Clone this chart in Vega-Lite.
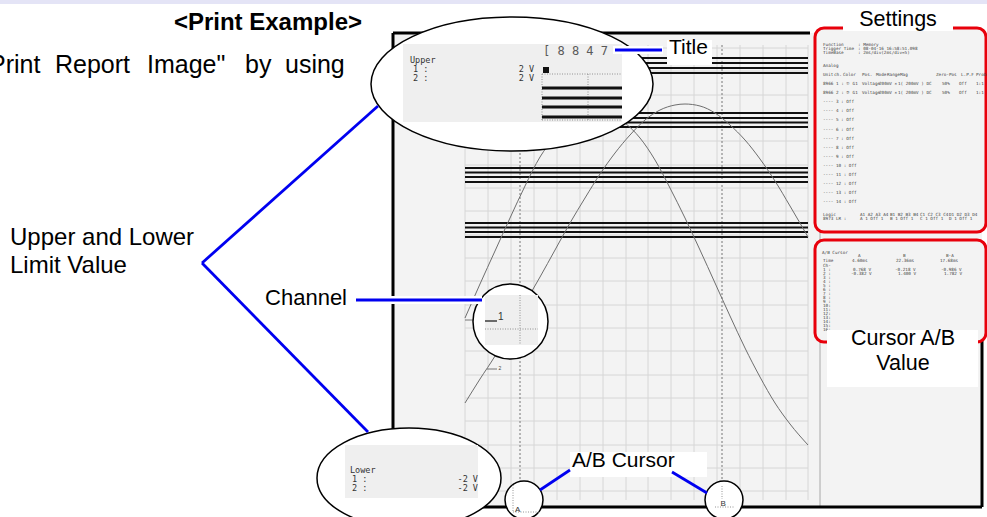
{
 "$schema": "https://vega.github.io/schema/vega-lite/v6.json",
 "width": 987, "height": 517, "padding": 0, "autosize": {"type": "none"},
 "background": "white",
 "config": {"view": {"stroke": null}, "text": {"font": "Liberation Sans"}},
 "encoding": {
  "x": {"field": "x", "type": "quantitative", "scale": {"domain": [0, 987], "nice": false, "zero": false}, "axis": null},
  "y": {"field": "y", "type": "quantitative", "scale": {"domain": [0, 517], "nice": false, "zero": false, "reverse": true}, "axis": null}
 },
 "layer": [
  {"data": {"values": [{"x": 0, "x2": 987, "y": 0, "y2": 4}]},
   "mark": {"type": "rect", "color": "#e4e4f6"},
   "encoding": {"x2": {"field": "x2"}, "y2": {"field": "y2"}}},
  {"data": {"values": [{"x": 393, "x2": 982, "y": 33, "y2": 507}]},
   "mark": {"type": "rect", "color": "#f3f3f3"},
   "encoding": {"x2": {"field": "x2"}, "y2": {"field": "y2"}}},
  {"data": {"values": [
    {"x": 465, "x2": 465, "y": 45, "y2": 500}, {"x": 488, "x2": 488, "y": 45, "y2": 500}, {"x": 511, "x2": 511, "y": 45, "y2": 500},
    {"x": 534, "x2": 534, "y": 45, "y2": 500}, {"x": 557, "x2": 557, "y": 45, "y2": 500}, {"x": 580, "x2": 580, "y": 45, "y2": 500},
    {"x": 603, "x2": 603, "y": 45, "y2": 500}, {"x": 626, "x2": 626, "y": 45, "y2": 500}, {"x": 648, "x2": 648, "y": 45, "y2": 500},
    {"x": 671, "x2": 671, "y": 45, "y2": 500}, {"x": 694, "x2": 694, "y": 45, "y2": 500}, {"x": 717, "x2": 717, "y": 45, "y2": 500},
    {"x": 740, "x2": 740, "y": 45, "y2": 500}, {"x": 763, "x2": 763, "y": 45, "y2": 500}, {"x": 786, "x2": 786, "y": 45, "y2": 500},
    {"x": 808, "x2": 808, "y": 45, "y2": 500},
    {"x": 465, "x2": 808, "y": 48, "y2": 48}, {"x": 465, "x2": 808, "y": 71, "y2": 71}, {"x": 465, "x2": 808, "y": 95, "y2": 95},
    {"x": 465, "x2": 808, "y": 118, "y2": 118}, {"x": 465, "x2": 808, "y": 141, "y2": 141}, {"x": 465, "x2": 808, "y": 165, "y2": 165},
    {"x": 465, "x2": 808, "y": 188, "y2": 188}, {"x": 465, "x2": 808, "y": 211, "y2": 211}, {"x": 465, "x2": 808, "y": 235, "y2": 235},
    {"x": 465, "x2": 808, "y": 258, "y2": 258}, {"x": 465, "x2": 808, "y": 281, "y2": 281}, {"x": 465, "x2": 808, "y": 305, "y2": 305},
    {"x": 465, "x2": 808, "y": 328, "y2": 328}, {"x": 465, "x2": 808, "y": 351, "y2": 351}, {"x": 465, "x2": 808, "y": 375, "y2": 375},
    {"x": 465, "x2": 808, "y": 398, "y2": 398}, {"x": 465, "x2": 808, "y": 421, "y2": 421}, {"x": 465, "x2": 808, "y": 445, "y2": 445},
    {"x": 465, "x2": 808, "y": 468, "y2": 468}, {"x": 465, "x2": 808, "y": 491, "y2": 491}
   ]},
   "mark": {"type": "rule", "color": "#d6d6d6", "strokeWidth": 1},
   "encoding": {"x2": {"field": "x2"}, "y2": {"field": "y2"}}},
  {"data": {"values": [{"x": 820, "x2": 820, "y": 33, "y2": 507}]},
   "mark": {"type": "rule", "color": "#a8a8a8", "strokeWidth": 1},
   "encoding": {"x2": {"field": "x2"}, "y2": {"field": "y2"}}},
  {"data": {"values": [{"x": 520, "x2": 520, "y": 45, "y2": 503}, {"x": 722, "x2": 722, "y": 45, "y2": 503}]},
   "mark": {"type": "rule", "color": "#777777", "strokeWidth": 1, "strokeDash": [2, 2]},
   "encoding": {"x2": {"field": "x2"}, "y2": {"field": "y2"}}},
  {"data": {"values": [
    {"x": 465, "x2": 808, "y": 58, "y2": 58}, {"x": 465, "x2": 808, "y": 63, "y2": 63}, {"x": 465, "x2": 808, "y": 68, "y2": 68}, {"x": 465, "x2": 808, "y": 73, "y2": 73},
    {"x": 465, "x2": 808, "y": 113, "y2": 113}, {"x": 465, "x2": 808, "y": 118, "y2": 118}, {"x": 465, "x2": 808, "y": 122.5, "y2": 122.5}, {"x": 465, "x2": 808, "y": 127, "y2": 127},
    {"x": 465, "x2": 808, "y": 168, "y2": 168}, {"x": 465, "x2": 808, "y": 172.5, "y2": 172.5}, {"x": 465, "x2": 808, "y": 177, "y2": 177}, {"x": 465, "x2": 808, "y": 182, "y2": 182},
    {"x": 465, "x2": 808, "y": 223, "y2": 223}, {"x": 465, "x2": 808, "y": 227.5, "y2": 227.5}, {"x": 465, "x2": 808, "y": 232, "y2": 232}, {"x": 465, "x2": 808, "y": 237, "y2": 237}
   ]},
   "mark": {"type": "rule", "color": "#111111", "strokeWidth": 1.8},
   "encoding": {"x2": {"field": "x2"}, "y2": {"field": "y2"}}},
  {"data": {"values": [
    {"ch": "1", "x": 465, "y": 318}, {"ch": "1", "x": 480, "y": 284}, {"ch": "1", "x": 495, "y": 251}, {"ch": "1", "x": 510, "y": 218},
    {"ch": "1", "x": 525, "y": 186}, {"ch": "1", "x": 540, "y": 157}, {"ch": "1", "x": 555, "y": 137}, {"ch": "1", "x": 570, "y": 123},
    {"ch": "1", "x": 585, "y": 114}, {"ch": "1", "x": 597, "y": 111}, {"ch": "1", "x": 610, "y": 114}, {"ch": "1", "x": 625, "y": 123},
    {"ch": "1", "x": 640, "y": 138}, {"ch": "1", "x": 655, "y": 160}, {"ch": "1", "x": 670, "y": 188}, {"ch": "1", "x": 685, "y": 218},
    {"ch": "1", "x": 700, "y": 250}, {"ch": "1", "x": 715, "y": 283}, {"ch": "1", "x": 730, "y": 316}, {"ch": "1", "x": 745, "y": 348},
    {"ch": "1", "x": 760, "y": 377}, {"ch": "1", "x": 775, "y": 403}, {"ch": "1", "x": 790, "y": 424}, {"ch": "1", "x": 808, "y": 445},
    {"ch": "2", "x": 465, "y": 403}, {"ch": "2", "x": 480, "y": 379}, {"ch": "2", "x": 495, "y": 356}, {"ch": "2", "x": 510, "y": 329},
    {"ch": "2", "x": 525, "y": 303}, {"ch": "2", "x": 540, "y": 277}, {"ch": "2", "x": 555, "y": 250}, {"ch": "2", "x": 570, "y": 223},
    {"ch": "2", "x": 585, "y": 198}, {"ch": "2", "x": 600, "y": 174}, {"ch": "2", "x": 615, "y": 153}, {"ch": "2", "x": 630, "y": 135},
    {"ch": "2", "x": 645, "y": 120}, {"ch": "2", "x": 660, "y": 110}, {"ch": "2", "x": 675, "y": 105}, {"ch": "2", "x": 685, "y": 104},
    {"ch": "2", "x": 700, "y": 106}, {"ch": "2", "x": 715, "y": 113}, {"ch": "2", "x": 730, "y": 125}, {"ch": "2", "x": 745, "y": 140},
    {"ch": "2", "x": 760, "y": 159}, {"ch": "2", "x": 775, "y": 181}, {"ch": "2", "x": 790, "y": 206}, {"ch": "2", "x": 808, "y": 237}
   ]},
   "mark": {"type": "line", "interpolate": "monotone", "color": "#6e6e6e", "strokeWidth": 1},
   "encoding": {"detail": {"field": "ch", "type": "nominal"}}},
  {"data": {"values": [{"x": 465, "x2": 474, "y": 320, "y2": 320}, {"x": 487, "x2": 497, "y": 369, "y2": 369}]},
   "mark": {"type": "rule", "color": "#555555", "strokeWidth": 0.8},
   "encoding": {"x2": {"field": "x2"}, "y2": {"field": "y2"}}},
  {"data": {"values": [{"x": 498.5, "y": 370, "t": "2"}]},
   "mark": {"type": "text", "align": "left", "baseline": "alphabetic", "fontSize": 5, "color": "#444444"},
   "encoding": {"text": {"field": "t"}}},
  {"data": {"values": [
    {"x": 393, "x2": 810, "y": 33, "y2": 33}, {"x": 393, "x2": 393, "y": 33, "y2": 507},
    {"x": 393, "x2": 982, "y": 507, "y2": 507}, {"x": 982, "x2": 982, "y": 340, "y2": 507}
   ]},
   "mark": {"type": "rule", "color": "black", "strokeWidth": 3},
   "encoding": {"x2": {"field": "x2"}, "y2": {"field": "y2"}}},
  {"data": {"values": [{"x": 815, "x2": 986, "y": 28, "y2": 232}, {"x": 815, "x2": 986, "y": 240, "y2": 342}]},
   "mark": {"type": "rect", "fill": "#f3f3f3", "stroke": "#e8000b", "strokeWidth": 3, "cornerRadius": 9},
   "encoding": {"x2": {"field": "x2"}, "y2": {"field": "y2"}}},
  {"data": {"values": [
    {"x": 823, "y": 45, "t": "Function"}, {"x": 858, "y": 45, "t": ": Memory"},
    {"x": 823, "y": 49, "t": "Trigger Time"}, {"x": 858, "y": 49, "t": ": 08-04-16 16:58:51.098"},
    {"x": 823, "y": 53, "t": "TimeBase"}, {"x": 858, "y": 53, "t": ": 2ms/div(2ms/div=5)"},
    {"x": 823, "y": 66, "t": "Analog"},
    {"x": 823, "y": 75, "t": "Unit"}, {"x": 834, "y": 75, "t": "ch."}, {"x": 843, "y": 75, "t": "Color"}, {"x": 862, "y": 75, "t": "Pos."},
    {"x": 876, "y": 75, "t": "Mode"}, {"x": 887, "y": 75, "t": "Range"}, {"x": 900, "y": 75, "t": "Mag"}, {"x": 936, "y": 75, "t": "Zero-Pos"},
    {"x": 961, "y": 75, "t": "L.P.F"}, {"x": 976, "y": 75, "t": "Prob"},
    {"x": 823, "y": 84, "t": "8966"}, {"x": 836, "y": 84, "t": "1 :"}, {"x": 846, "y": 84, "t": "① G1"}, {"x": 862, "y": 84, "t": "Voltage"},
    {"x": 879, "y": 84, "t": "200mV ×"}, {"x": 898, "y": 84, "t": "1( 200mV ) DC"}, {"x": 942, "y": 84, "t": "50%"}, {"x": 959, "y": 84, "t": "Off"}, {"x": 976, "y": 84, "t": "1:1"},
    {"x": 823, "y": 93, "t": "8966"}, {"x": 836, "y": 93, "t": "2 :"}, {"x": 846, "y": 93, "t": "② G1"}, {"x": 862, "y": 93, "t": "Voltage"},
    {"x": 879, "y": 93, "t": "200mV ×"}, {"x": 898, "y": 93, "t": "1( 200mV ) DC"}, {"x": 942, "y": 93, "t": "50%"}, {"x": 959, "y": 93, "t": "Off"}, {"x": 976, "y": 93, "t": "1:1"},
    {"x": 823, "y": 102, "t": "----  3 : Off"}, {"x": 823, "y": 111, "t": "----  4 : Off"}, {"x": 823, "y": 120, "t": "----  5 : Off"},
    {"x": 823, "y": 130, "t": "----  6 : Off"}, {"x": 823, "y": 139, "t": "----  7 : Off"}, {"x": 823, "y": 148, "t": "----  8 : Off"},
    {"x": 823, "y": 157, "t": "----  9 : Off"}, {"x": 823, "y": 166, "t": "---- 10 : Off"}, {"x": 823, "y": 175, "t": "---- 11 : Off"},
    {"x": 823, "y": 184, "t": "---- 12 : Off"}, {"x": 823, "y": 193, "t": "---- 13 : Off"}, {"x": 823, "y": 202, "t": "---- 14 : Off"},
    {"x": 823, "y": 215, "t": "Logic"}, {"x": 860, "y": 215, "t": "A1 A2 A3 A4"}, {"x": 890, "y": 215, "t": "B1 B2 B3 B4"},
    {"x": 920, "y": 215, "t": "C1 C2 C3 C4"}, {"x": 949, "y": 215, "t": "D1 D2 D3 D4"},
    {"x": 823, "y": 219, "t": "8973 LR :"}, {"x": 860, "y": 219, "t": "A  1 Off 1"}, {"x": 890, "y": 219, "t": "B  1 Off 1"},
    {"x": 920, "y": 219, "t": "C  1 Off 1"}, {"x": 949, "y": 219, "t": "D  1 Off 1"},
    {"x": 822, "y": 253, "t": "A/B Cursor"}, {"x": 858, "y": 256, "t": "A"}, {"x": 903, "y": 256, "t": "B"}, {"x": 946, "y": 256, "t": "B-A"},
    {"x": 823, "y": 261, "t": "Time"}, {"x": 852, "y": 261, "t": "4.60ms"}, {"x": 896, "y": 261, "t": "22.36ms"}, {"x": 940, "y": 261, "t": "17.68ms"},
    {"x": 823, "y": 265.5, "t": "Ch-"},
    {"x": 823, "y": 270, "t": "1 :"}, {"x": 853, "y": 270, "t": "0.768 V"}, {"x": 895, "y": 270, "t": "-0.218 V"}, {"x": 941, "y": 270, "t": "-0.986 V"},
    {"x": 823, "y": 274, "t": "2 :"}, {"x": 851, "y": 274, "t": "-0.382 V"}, {"x": 898, "y": 274, "t": "1.400 V"}, {"x": 944, "y": 274, "t": "1.782 V"},
    {"x": 823, "y": 278, "t": "3 :"}, {"x": 823, "y": 282, "t": "4 :"}, {"x": 823, "y": 286, "t": "5 :"}, {"x": 823, "y": 290, "t": "6 :"},
    {"x": 823, "y": 294, "t": "7 :"}, {"x": 823, "y": 298, "t": "8 :"}, {"x": 823, "y": 302, "t": "9 :"}, {"x": 823, "y": 306, "t": "10:"},
    {"x": 823, "y": 310, "t": "11:"}, {"x": 823, "y": 314, "t": "12:"}, {"x": 823, "y": 318, "t": "13:"}, {"x": 823, "y": 322, "t": "14:"},
    {"x": 823, "y": 326, "t": "15:"}, {"x": 823, "y": 330, "t": "16:"}
   ]},
   "mark": {"type": "text", "align": "left", "baseline": "middle", "fontSize": 4.3, "font": "DejaVu Sans Mono", "color": "#444444"},
   "encoding": {"text": {"field": "t"}}},
  {"data": {"values": [
    {"x": 843, "x2": 953, "y": 5, "y2": 31}, {"x": 827, "x2": 978, "y": 330, "y2": 387},
    {"x": 667, "x2": 712, "y": 40, "y2": 65}, {"x": 570, "x2": 707, "y": 452, "y2": 477}
   ]},
   "mark": {"type": "rect", "color": "white"},
   "encoding": {"x2": {"field": "x2"}, "y2": {"field": "y2"}}},
  {"data": {"values": [{"x": 512, "y": 84}]},
   "mark": {"type": "point", "shape": "M-1,0C-1,-0.2625,-0.5523,-0.4752,0,-0.4752C0.5523,-0.4752,1,-0.2625,1,0C1,0.2625,0.5523,0.4752,0,0.4752C-0.5523,0.4752,-1,0.2625,-1,0Z", "size": 79524, "filled": true, "fill": "white", "stroke": "black", "strokeWidth": 1.5, "opacity": 1}},
  {"data": {"values": [{"x": 409, "y": 478}]},
   "mark": {"type": "point", "shape": "M-1,0C-1,-0.3002,-0.5523,-0.5435,0,-0.5435C0.5523,-0.5435,1,-0.3002,1,0C1,0.3002,0.5523,0.5435,0,0.5435C-0.5523,0.5435,-1,0.3002,-1,0Z", "size": 33856, "filled": true, "fill": "white", "stroke": "black", "strokeWidth": 1.5, "opacity": 1}},
  {"data": {"values": [{"x": 510.5, "y": 321.5}]},
   "mark": {"type": "point", "shape": "circle", "size": 5625, "filled": true, "fill": "white", "stroke": "black", "strokeWidth": 1.5, "opacity": 1}},
  {"data": {"values": [{"x": 524, "y": 500}, {"x": 724, "y": 500}]},
   "mark": {"type": "point", "shape": "circle", "size": 1444, "filled": true, "fill": "white", "stroke": "black", "strokeWidth": 1.5, "opacity": 1}},
  {"data": {"values": [
    {"x": 403, "x2": 622, "y": 44, "y2": 122}, {"x": 345, "x2": 478, "y": 445, "y2": 498}, {"x": 485, "x2": 538, "y": 295, "y2": 345}
   ]},
   "mark": {"type": "rect", "color": "#efefef"},
   "encoding": {"x2": {"field": "x2"}, "y2": {"field": "y2"}}},
  {"data": {"values": [
    {"x": 542, "x2": 622, "y": 74, "y2": 74}, {"x": 542, "x2": 622, "y": 120, "y2": 120},
    {"x": 542, "x2": 542, "y": 74, "y2": 120}, {"x": 588, "x2": 588, "y": 74, "y2": 120},
    {"x": 520, "x2": 520, "y": 295, "y2": 345}, {"x": 485, "x2": 538, "y": 329, "y2": 329},
    {"x": 513, "x2": 513, "y": 485, "y2": 512}, {"x": 513, "x2": 540, "y": 512, "y2": 512},
    {"x": 722, "x2": 722, "y": 486, "y2": 499}, {"x": 715, "x2": 734, "y": 507, "y2": 507}
   ]},
   "mark": {"type": "rule", "color": "#888888", "strokeWidth": 0.9, "strokeDash": [1, 1.5]},
   "encoding": {"x2": {"field": "x2"}, "y2": {"field": "y2"}}},
  {"data": {"values": [
    {"x": 542, "x2": 622, "y": 88, "y2": 88}, {"x": 542, "x2": 622, "y": 98, "y2": 98},
    {"x": 542, "x2": 622, "y": 107, "y2": 107}, {"x": 542, "x2": 622, "y": 117, "y2": 117}
   ]},
   "mark": {"type": "rule", "color": "#111111", "strokeWidth": 3},
   "encoding": {"x2": {"field": "x2"}, "y2": {"field": "y2"}}},
  {"data": {"values": [{"x": 485, "x2": 497, "y": 321, "y2": 321}]},
   "mark": {"type": "rule", "color": "#222222", "strokeWidth": 1.3},
   "encoding": {"x2": {"field": "x2"}, "y2": {"field": "y2"}}},
  {"data": {"values": [{"x": 543, "x2": 549, "y": 67, "y2": 73}]},
   "mark": {"type": "rect", "color": "#111111"},
   "encoding": {"x2": {"field": "x2"}, "y2": {"field": "y2"}}},
  {"data": {"values": [{"x": 543, "y": 55, "t": "[ 8 8 4 7"}]},
   "mark": {"type": "text", "align": "left", "baseline": "alphabetic", "fontSize": 12, "font": "DejaVu Sans Mono", "color": "#5a5a5a"},
   "encoding": {"text": {"field": "t"}}},
  {"data": {"values": [{"x": 410, "y": 63, "t": "Upper"}, {"x": 350, "y": 473, "t": "Lower"}]},
   "mark": {"type": "text", "align": "left", "baseline": "alphabetic", "fontSize": 8.5, "font": "DejaVu Sans Mono", "color": "#333333"},
   "encoding": {"text": {"field": "t"}}},
  {"data": {"values": [
    {"x": 413, "y": 72, "t": ["1 :", "2 :"]}, {"x": 352, "y": 482, "t": ["1 :", "2 :"]}
   ]},
   "mark": {"type": "text", "align": "left", "baseline": "alphabetic", "fontSize": 8.5, "lineHeight": 8.6, "font": "DejaVu Sans Mono", "color": "#333333"},
   "encoding": {"text": {"field": "t"}}},
  {"data": {"values": [
    {"x": 534, "y": 72, "t": ["2 V", "2 V"]}, {"x": 478, "y": 482, "t": ["-2 V", "-2 V"]}
   ]},
   "mark": {"type": "text", "align": "right", "baseline": "alphabetic", "fontSize": 8.5, "lineHeight": 8.6, "font": "DejaVu Sans Mono", "color": "#333333"},
   "encoding": {"text": {"field": "t"}}},
  {"data": {"values": [{"x": 498, "y": 320, "t": "1"}]},
   "mark": {"type": "text", "align": "left", "baseline": "alphabetic", "fontSize": 10, "color": "#333333"},
   "encoding": {"text": {"field": "t"}}},
  {"data": {"values": [{"x": 515, "y": 512, "t": "A"}, {"x": 720.5, "y": 506, "t": "B"}]},
   "mark": {"type": "text", "align": "left", "baseline": "alphabetic", "fontSize": 8, "color": "#333333"},
   "encoding": {"text": {"field": "t"}}},
  {"data": {"values": [
    {"x": 356, "x2": 482, "y": 300, "y2": 300}, {"x": 613, "x2": 663, "y": 50, "y2": 50}
   ]},
   "mark": {"type": "rule", "color": "white", "strokeWidth": 8},
   "encoding": {"x2": {"field": "x2"}, "y2": {"field": "y2"}}},
  {"data": {"values": [
    {"x": 202, "x2": 378, "y": 263, "y2": 106}, {"x": 202, "x2": 368, "y": 263, "y2": 432},
    {"x": 356, "x2": 482, "y": 300, "y2": 300}, {"x": 615, "x2": 662, "y": 50, "y2": 50},
    {"x": 570, "x2": 540, "y": 470, "y2": 490}, {"x": 672, "x2": 707, "y": 472, "y2": 493}
   ]},
   "mark": {"type": "rule", "color": "#0000f0", "strokeWidth": 2.8},
   "encoding": {"x2": {"field": "x2"}, "y2": {"field": "y2"}}},
  {"data": {"values": [{"x": 362, "y": 30, "t": "<Print Example>"}]},
   "mark": {"type": "text", "align": "right", "baseline": "alphabetic", "fontSize": 24, "fontWeight": "bold", "font": "Liberation Sans", "color": "black"},
   "encoding": {"text": {"field": "t"}}},
  {"data": {"values": [
    {"x": -11, "y": 73, "t": "Print"}, {"x": 55, "y": 73, "t": "Report"}, {"x": 147, "y": 73, "t": "Image\""},
    {"x": 245, "y": 73, "t": "by"}, {"x": 285, "y": 73, "t": "using"}
   ]},
   "mark": {"type": "text", "align": "left", "baseline": "alphabetic", "fontSize": 25, "font": "Liberation Sans", "color": "black"},
   "encoding": {"text": {"field": "t"}}},
  {"data": {"values": [{"x": 10, "y": 245, "t": "Upper and Lower"}, {"x": 10, "y": 273, "t": "Limit Value"}]},
   "mark": {"type": "text", "align": "left", "baseline": "alphabetic", "fontSize": 24, "font": "Liberation Sans", "color": "black"},
   "encoding": {"text": {"field": "t"}}},
  {"data": {"values": [{"x": 347, "y": 305, "t": "Channel"}]},
   "mark": {"type": "text", "align": "right", "baseline": "alphabetic", "fontSize": 22, "font": "Liberation Sans", "color": "black"},
   "encoding": {"text": {"field": "t"}}},
  {"data": {"values": [{"x": 669, "y": 54, "t": "Title"}, {"x": 572, "y": 467, "t": "A/B Cursor"}]},
   "mark": {"type": "text", "align": "left", "baseline": "alphabetic", "fontSize": 21, "font": "Liberation Sans", "color": "black"},
   "encoding": {"text": {"field": "t"}}},
  {"data": {"values": [{"x": 898, "y": 26, "t": "Settings"}, {"x": 903, "y": 345, "t": "Cursor A/B"}, {"x": 903, "y": 370, "t": "Value"}]},
   "mark": {"type": "text", "align": "center", "baseline": "alphabetic", "fontSize": 21.5, "font": "Liberation Sans", "color": "black"},
   "encoding": {"text": {"field": "t"}}}
 ]
}
